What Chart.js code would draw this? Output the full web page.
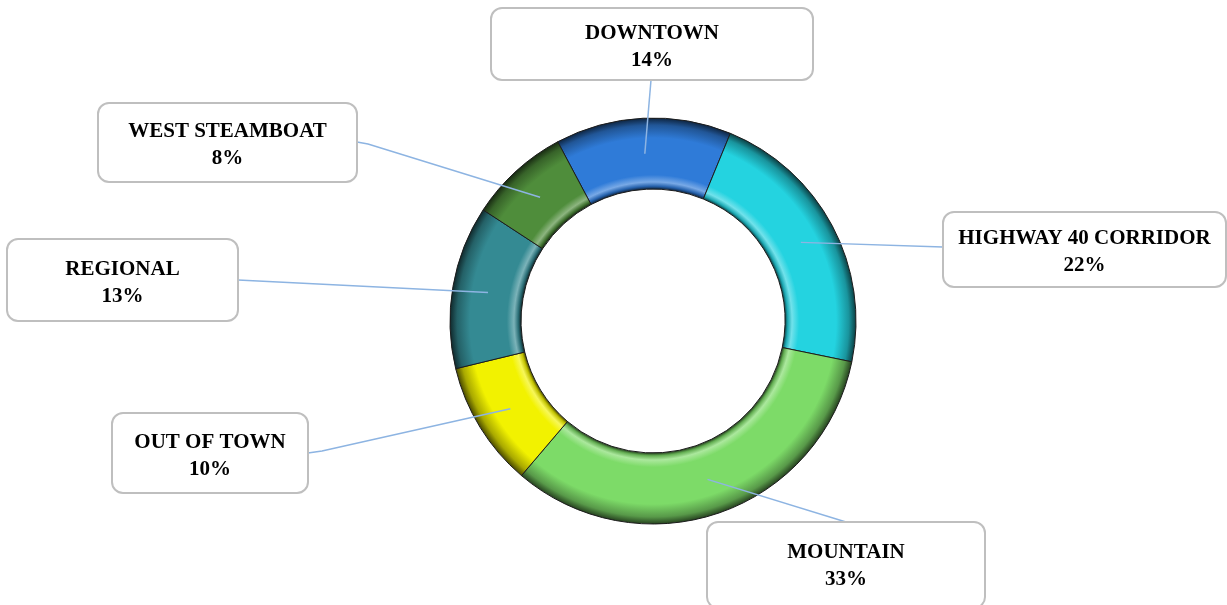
<!DOCTYPE html>
<html lang="en">
<head>
<meta charset="UTF-8" />
<title>Share by Area</title>
<script src="https://cdn.jsdelivr.net/npm/chart.js"></script>
<style>
  html, body { margin: 0; padding: 0; background: #fff; }
  #wrap { width: 1227px; height: 605px; }
</style>
</head>
<body>
<div id="wrap"><canvas id="ringChart" width="1227" height="605"></canvas></div>
<script>
const areas = ["DOWNTOWN", "HIGHWAY 40 CORRIDOR", "MOUNTAIN", "OUT OF TOWN", "REGIONAL", "WEST STEAMBOAT"];
const shares = [14, 22, 33, 10, 13, 8];
const sliceColors = ["#2f7bd8", "#24d3e0", "#7ddb68", "#f2f200", "#348a93", "#4f8d3b"];

// callout boxes (layout only), in the same order as the areas
const callouts = [
  { x: 491, y: 8,   w: 322, h: 72, anchor: [651, 80],  stub: null },
  { x: 943, y: 212, w: 283, h: 75, anchor: [943, 247], stub: null },
  { x: 707, y: 522, w: 278, h: 86, anchor: [846, 522], stub: null },
  { x: 112, y: 413, w: 196, h: 80, anchor: [308, 453], stub: [322, 451] },
  { x: 7,   y: 239, w: 231, h: 82, anchor: [238, 280], stub: null },
  { x: 98,  y: 103, w: 259, h: 79, anchor: [357, 142], stub: [368, 144] }
];

const RADIUS = 203;
const CUT = 0.65;

function shade(hex, f) {
  const n = parseInt(hex.slice(1), 16);
  let r = (n >> 16) & 255, g = (n >> 8) & 255, b = n & 255;
  if (f < 0) { r *= 1 + f; g *= 1 + f; b *= 1 + f; }
  else { r += (255 - r) * f; g += (255 - g) * f; b += (255 - b) * f; }
  return `rgb(${Math.round(r)},${Math.round(g)},${Math.round(b)})`;
}

// radial shading so the ring looks bevelled like the original
function bevelFill(context) {
  const base = sliceColors[context.dataIndex];
  const area = context.chart.chartArea;
  if (!area) return base;
  const cx = (area.left + area.right) / 2;
  const cy = (area.top + area.bottom) / 2;
  const g = context.chart.ctx.createRadialGradient(cx, cy, RADIUS * CUT, cx, cy, RADIUS);
  g.addColorStop(0, shade(base, -0.7));
  g.addColorStop(0.04, shade(base, -0.2));
  g.addColorStop(0.1, shade(base, 0.35));
  g.addColorStop(0.2, base);
  g.addColorStop(0.72, base);
  g.addColorStop(0.9, shade(base, -0.3));
  g.addColorStop(1, shade(base, -0.7));
  return g;
}

const calloutPlugin = {
  id: "callouts",
  afterDatasetsDraw(chart) {
    const ctx = chart.ctx;
    const arcs = chart.getDatasetMeta(0).data;
    ctx.save();
    // leader lines
    ctx.strokeStyle = "#8db4e2";
    ctx.lineWidth = 1.5;
    arcs.forEach((arc, i) => {
      const p = arc.tooltipPosition();
      const c = callouts[i];
      ctx.beginPath();
      ctx.moveTo(p.x, p.y);
      if (c.stub) ctx.lineTo(c.stub[0], c.stub[1]);
      ctx.lineTo(c.anchor[0], c.anchor[1]);
      ctx.stroke();
    });
    // boxes and text
    ctx.font = "bold 21px 'Liberation Serif', 'Times New Roman', serif";
    ctx.textAlign = "center";
    ctx.textBaseline = "middle";
    callouts.forEach((c, i) => {
      ctx.beginPath();
      ctx.roundRect(c.x, c.y, c.w, c.h, 11);
      ctx.fillStyle = "#ffffff";
      ctx.fill();
      ctx.lineWidth = 2;
      ctx.strokeStyle = "#bfbfbf";
      ctx.stroke();
      const mx = c.x + c.w / 2;
      const my = Math.min(c.y + c.h / 2, c.y + 41) + 3;
      ctx.fillStyle = "#000000";
      ctx.fillText(areas[i], mx, my - 13.5);
      ctx.fillText(shares[i] + "%", mx, my + 13.5);
    });
    ctx.restore();
  }
};

new Chart(document.getElementById("ringChart"), {
  type: "doughnut",
  data: {
    labels: areas,
    datasets: [{
      data: shares,
      backgroundColor: bevelFill,
      borderColor: "#1c1c1c",
      borderWidth: 1,
      hoverOffset: 0
    }]
  },
  options: {
    responsive: false,
    animation: false,
    events: [],
    rotation: -28,
    cutout: (CUT * 100) + "%",
    radius: RADIUS,
    layout: { padding: { left: 450, right: 371, top: 118, bottom: 81 } },
    plugins: {
      legend: { display: false },
      tooltip: { enabled: false }
    }
  },
  plugins: [calloutPlugin]
});
</script>
</body>
</html>
